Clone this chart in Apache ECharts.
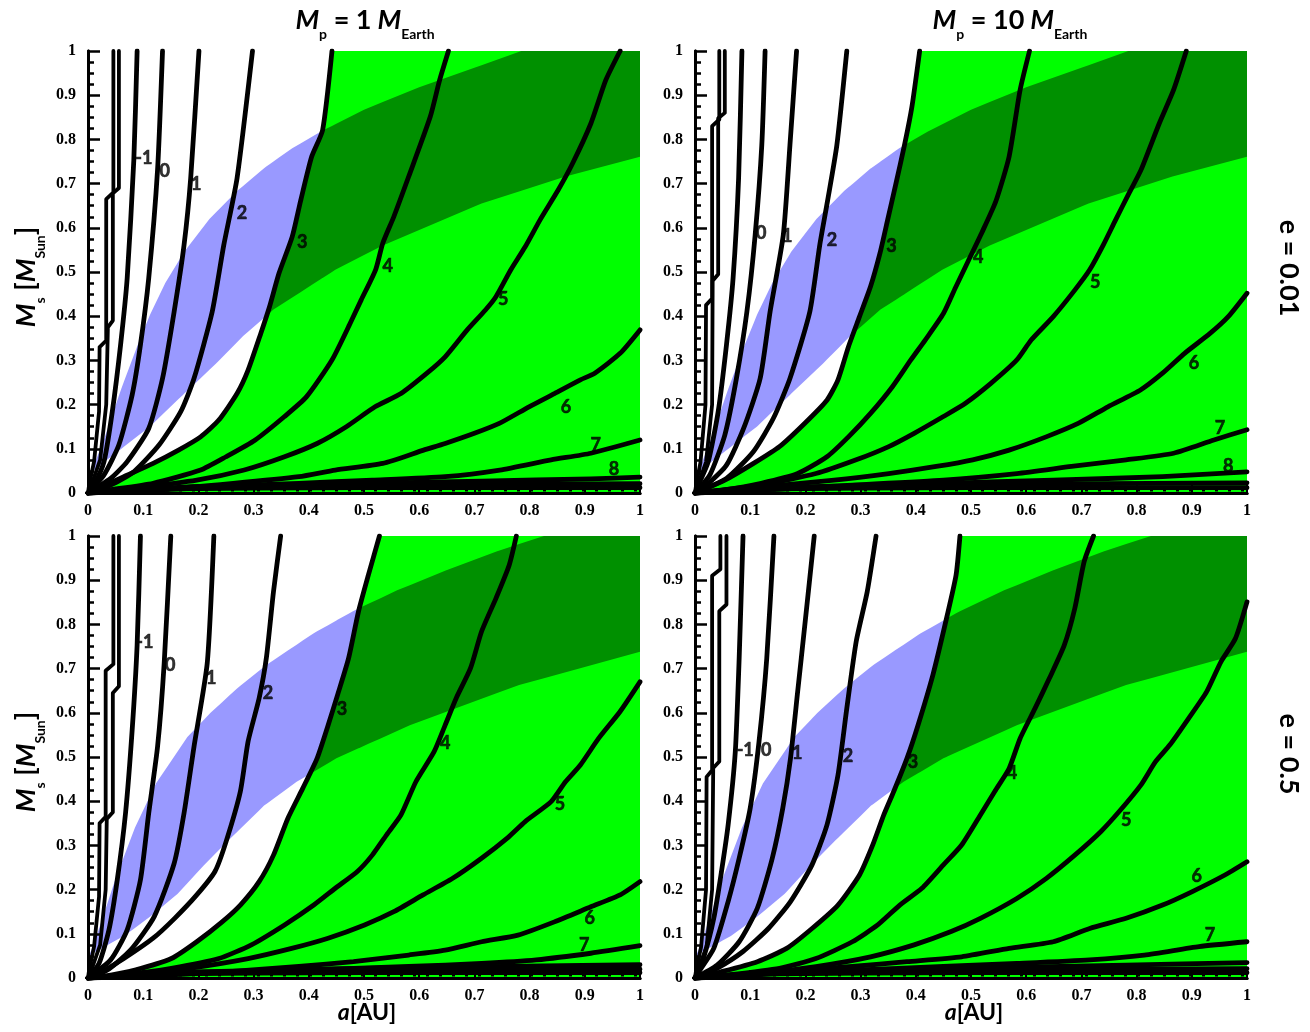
<!DOCTYPE html>
<html>
<head>
<meta charset="utf-8">
<script src="https://cdn.jsdelivr.net/npm/echarts@6/dist/echarts.min.js"></script>
<style>
html,body{margin:0;padding:0;background:#fff}
#chart{width:1310px;height:1032px}
</style>
</head>
<body>
<div id="chart"></div>
<script>
// Contour levels (log10 of the quantity) drawn in every panel
const levels = [-3, -2, -1, 0, 1, 2, 3, 4, 5, 6, 7, 8, 9, 10];

// Habitable-zone band edges, e = 0.01 (a [AU], Ms [Msun])
const hzUpperE001 = [[0,0.035],[0.01,0.06],[0.03,0.125],[0.06,0.235],[0.09,0.335],[0.113,0.405],[0.14,0.475],[0.174,0.545],[0.22,0.62],[0.27,0.683],[0.319,0.735],[0.37,0.78],[0.422,0.818],[0.5,0.867],[0.6,0.918],[0.7,0.962],[0.785,1],[1,1]];
const hzLowerE001 = [[0,0.04],[0.015,0.056],[0.055,0.095],[0.112,0.15],[0.172,0.222],[0.232,0.293],[0.281,0.355],[0.336,0.415],[0.448,0.505],[0.534,0.56],[0.713,0.655],[0.865,0.716],[1,0.761]];
// Habitable-zone band edges, e = 0.5
const hzUpperE05 = [[0,0.045],[0.01,0.075],[0.025,0.13],[0.05,0.225],[0.085,0.34],[0.123,0.44],[0.18,0.545],[0.222,0.6],[0.27,0.655],[0.325,0.71],[0.409,0.78],[0.48,0.83],[0.56,0.877],[0.648,0.922],[0.74,0.965],[0.826,1],[1,1]];
const hzLowerE05 = [[0,0.05],[0.023,0.066],[0.065,0.095],[0.114,0.14],[0.162,0.19],[0.21,0.255],[0.255,0.312],[0.319,0.39],[0.378,0.444],[0.45,0.497],[0.583,0.572],[0.781,0.663],[1,0.738]];

// Mp = 1 Earth, e = 0.01
const contoursTL = [
  [[0.046,1],[0.046,0.68],[0.033,0.665],[0.033,0.345],[0.021,0.33],[0.02,0.184],[0.011,0.071],[0.002,0.018],[0,0]],
  [[0.056,1],[0.056,0.69],[0.045,0.678],[0.045,0.39],[0.036,0.375],[0.033,0.2],[0.022,0.075],[0.006,0.018],[0,0]],
  [[0.089,1],[0.083,0.753],[0.071,0.486],[0.059,0.335],[0.044,0.184],[0.029,0.071],[0.011,0.018],[0,0]],
  [[0.135,1],[0.126,0.731],[0.11,0.486],[0.095,0.335],[0.08,0.222],[0.056,0.109],[0.029,0.041],[0,0]],
  [[0.201,1],[0.186,0.712],[0.174,0.561],[0.156,0.41],[0.135,0.259],[0.11,0.146],[0.071,0.071],[0.041,0.033],[0,0]],
  [[0.298,1],[0.27,0.712],[0.246,0.561],[0.225,0.41],[0.192,0.259],[0.168,0.184],[0.129,0.109],[0.083,0.048],[0.041,0.018],[0,0]],
  [[0.442,1],[0.425,0.821],[0.405,0.76],[0.385,0.66],[0.37,0.58],[0.346,0.497],[0.329,0.422],[0.313,0.361],[0.29,0.278],[0.27,0.225],[0.237,0.165],[0.204,0.127],[0.164,0.097],[0.118,0.067],[0.065,0.037],[0.025,0.014],[0,0]],
  [[0.653,1],[0.637,0.934],[0.62,0.851],[0.581,0.716],[0.554,0.625],[0.534,0.565],[0.521,0.505],[0.495,0.437],[0.475,0.384],[0.442,0.301],[0.396,0.218],[0.356,0.173],[0.303,0.12],[0.25,0.082],[0.204,0.052],[0.118,0.022],[0.038,0.007],[0,0]],
  [[0.964,1],[0.938,0.934],[0.911,0.836],[0.878,0.746],[0.852,0.686],[0.819,0.618],[0.792,0.557],[0.766,0.505],[0.739,0.444],[0.72,0.414],[0.687,0.369],[0.647,0.308],[0.614,0.271],[0.567,0.225],[0.52,0.195],[0.468,0.15],[0.415,0.112],[0.356,0.082],[0.283,0.052],[0.197,0.029],[0.085,0.011],[0,0]],
  [[1,0.369],[0.964,0.316],[0.918,0.271],[0.892,0.256],[0.845,0.225],[0.799,0.195],[0.746,0.158],[0.7,0.135],[0.647,0.112],[0.608,0.097],[0.534,0.067],[0.448,0.052],[0.382,0.037],[0.263,0.022],[0.118,0.007],[0,0]],
  [[1,0.12],[0.911,0.09],[0.839,0.075],[0.746,0.052],[0.647,0.037],[0.515,0.029],[0.382,0.022],[0.217,0.014],[0,0]],
  [[1,0.036],[0.911,0.032],[0.713,0.027],[0.515,0.022],[0.3,0.016],[0,0]],
  [[1,0.021],[0.6,0.019],[0.2,0.015],[0,0]],
  [[1,0.012],[0.5,0.012],[0.1,0.009],[0,0]]
];
const labelsTL = [['-1',0.101,0.758],['0',0.139,0.729],['1',0.196,0.699],['2',0.279,0.633],['3',0.388,0.568],['4',0.543,0.514],['5',0.752,0.439],['6',0.866,0.195],['7',0.92,0.109],['8',0.953,0.054]];

// Mp = 10 Earth, e = 0.01
const contoursTR = [
  [[0.044,1],[0.044,0.845],[0.031,0.83],[0.031,0.44],[0.02,0.425],[0.019,0.2],[0.01,0.07],[0.002,0.018],[0,0]],
  [[0.054,1],[0.054,0.86],[0.042,0.848],[0.042,0.495],[0.032,0.48],[0.031,0.2],[0.02,0.07],[0.005,0.018],[0,0]],
  [[0.085,1],[0.079,0.712],[0.069,0.486],[0.057,0.335],[0.042,0.184],[0.024,0.071],[0.006,0.018],[0,0]],
  [[0.127,1],[0.121,0.787],[0.109,0.584],[0.094,0.41],[0.075,0.259],[0.054,0.131],[0.027,0.041],[0,0]],
  [[0.184,1],[0.172,0.787],[0.16,0.584],[0.136,0.41],[0.118,0.259],[0.088,0.146],[0.057,0.063],[0.021,0.018],[0,0]],
  [[0.275,1],[0.257,0.787],[0.24,0.66],[0.226,0.561],[0.208,0.41],[0.172,0.259],[0.142,0.169],[0.106,0.094],[0.057,0.033],[0,0]],
  [[0.407,1],[0.393,0.874],[0.38,0.79],[0.364,0.7],[0.349,0.618],[0.335,0.542],[0.318,0.467],[0.298,0.399],[0.278,0.331],[0.259,0.256],[0.239,0.21],[0.199,0.158],[0.153,0.105],[0.106,0.067],[0.054,0.029],[0.014,0.007],[0,0]],
  [[0.606,1],[0.589,0.912],[0.569,0.761],[0.545,0.66],[0.52,0.59],[0.495,0.525],[0.472,0.465],[0.45,0.406],[0.417,0.346],[0.391,0.301],[0.358,0.241],[0.318,0.18],[0.278,0.127],[0.239,0.082],[0.186,0.044],[0.12,0.022],[0.054,0.007],[0,0]],
  [[0.89,1],[0.867,0.912],[0.841,0.836],[0.808,0.731],[0.785,0.675],[0.762,0.618],[0.74,0.562],[0.715,0.505],[0.688,0.459],[0.649,0.399],[0.609,0.346],[0.583,0.301],[0.536,0.248],[0.49,0.203],[0.45,0.173],[0.397,0.135],[0.351,0.105],[0.292,0.075],[0.219,0.044],[0.12,0.018],[0,0]],
  [[1,0.452],[0.966,0.399],[0.933,0.361],[0.887,0.316],[0.847,0.271],[0.807,0.233],[0.748,0.195],[0.695,0.158],[0.636,0.127],[0.569,0.097],[0.503,0.075],[0.437,0.06],[0.351,0.044],[0.252,0.029],[0.12,0.014],[0,0]],
  [[1,0.143],[0.94,0.12],[0.867,0.09],[0.781,0.075],[0.682,0.06],[0.583,0.044],[0.45,0.029],[0.285,0.018],[0.12,0.007],[0,0]],
  [[1,0.048],[0.847,0.037],[0.649,0.029],[0.45,0.022],[0.252,0.014],[0,0]],
  [[1,0.023],[0.5,0.019],[0.15,0.013],[0,0]],
  [[1,0.012],[0.5,0.012],[0.1,0.009],[0,0]]
];
const labelsTR = [['0',0.12,0.588],['1',0.167,0.581],['2',0.248,0.572],['3',0.356,0.559],['4',0.513,0.534],['5',0.725,0.477],['6',0.904,0.294],['7',0.951,0.147],['8',0.966,0.061]];

// Mp = 1 Earth, e = 0.5
const contoursBL = [
  [[0.046,1],[0.046,0.71],[0.032,0.695],[0.032,0.365],[0.021,0.35],[0.02,0.184],[0.011,0.071],[0.002,0.018],[0,0]],
  [[0.056,1],[0.056,0.66],[0.045,0.645],[0.045,0.375],[0.034,0.36],[0.032,0.2],[0.022,0.075],[0.006,0.018],[0,0]],
  [[0.095,1],[0.089,0.753],[0.08,0.561],[0.068,0.373],[0.053,0.222],[0.038,0.109],[0.02,0.033],[0,0]],
  [[0.15,1],[0.138,0.712],[0.126,0.523],[0.11,0.373],[0.095,0.222],[0.071,0.109],[0.041,0.041],[0,0]],
  [[0.228,1],[0.216,0.712],[0.192,0.523],[0.174,0.373],[0.156,0.259],[0.12,0.139],[0.077,0.063],[0.035,0.018],[0,0]],
  [[0.349,1],[0.336,0.874],[0.323,0.723],[0.31,0.633],[0.29,0.535],[0.276,0.422],[0.25,0.308],[0.23,0.241],[0.197,0.188],[0.157,0.135],[0.118,0.09],[0.065,0.044],[0.025,0.014],[0,0]],
  [[0.528,1],[0.508,0.912],[0.49,0.829],[0.472,0.723],[0.452,0.64],[0.435,0.572],[0.415,0.497],[0.389,0.429],[0.362,0.361],[0.336,0.278],[0.31,0.218],[0.276,0.165],[0.243,0.127],[0.197,0.082],[0.151,0.044],[0.085,0.018],[0.025,0.003],[0,0]],
  [[0.776,1],[0.763,0.934],[0.739,0.859],[0.713,0.784],[0.693,0.701],[0.667,0.633],[0.647,0.572],[0.627,0.512],[0.594,0.444],[0.567,0.369],[0.541,0.324],[0.515,0.278],[0.488,0.241],[0.448,0.203],[0.409,0.165],[0.356,0.12],[0.296,0.075],[0.237,0.044],[0.151,0.022],[0.065,0.007],[0,0]],
  [[1,0.67],[0.964,0.603],[0.925,0.542],[0.892,0.482],[0.865,0.444],[0.839,0.399],[0.792,0.354],[0.759,0.316],[0.713,0.271],[0.66,0.225],[0.607,0.188],[0.554,0.15],[0.501,0.12],[0.435,0.09],[0.369,0.067],[0.29,0.044],[0.184,0.022],[0.085,0.007],[0,0]],
  [[1,0.218],[0.964,0.188],[0.911,0.161],[0.845,0.127],[0.779,0.097],[0.713,0.082],[0.647,0.063],[0.581,0.052],[0.481,0.037],[0.382,0.026],[0.25,0.014],[0.118,0.005],[0,0]],
  [[1,0.073],[0.911,0.056],[0.812,0.041],[0.713,0.033],[0.581,0.026],[0.382,0.018],[0.184,0.011],[0,0]],
  [[1,0.03],[0.6,0.024],[0.2,0.014],[0,0]],
  [[1,0.02],[0.5,0.018],[0.15,0.012],[0,0]],
  [[1,0.012],[0.5,0.012],[0.1,0.009],[0,0]]
];
const labelsBL = [['-1',0.103,0.76],['0',0.149,0.708],['1',0.223,0.679],['2',0.326,0.645],['3',0.46,0.609],['4',0.647,0.532],['5',0.855,0.394],['6',0.909,0.136],['7',0.899,0.075]];

// Mp = 10 Earth, e = 0.5
const contoursBR = [
  [[0.046,1],[0.046,0.925],[0.031,0.91],[0.031,0.47],[0.021,0.455],[0.02,0.2],[0.011,0.07],[0.002,0.018],[0,0]],
  [[0.057,1],[0.057,0.845],[0.044,0.83],[0.044,0.49],[0.033,0.475],[0.031,0.2],[0.021,0.07],[0.005,0.018],[0,0]],
  [[0.087,1],[0.08,0.723],[0.073,0.512],[0.06,0.346],[0.047,0.233],[0.034,0.135],[0.017,0.052],[0,0]],
  [[0.143,1],[0.13,0.723],[0.116,0.535],[0.1,0.384],[0.08,0.271],[0.06,0.173],[0.034,0.067],[0.007,0.014],[0,0]],
  [[0.216,1],[0.199,0.799],[0.186,0.648],[0.173,0.497],[0.159,0.384],[0.14,0.271],[0.113,0.158],[0.08,0.082],[0.04,0.029],[0,0]],
  [[0.328,1],[0.312,0.874],[0.292,0.761],[0.275,0.61],[0.259,0.459],[0.239,0.346],[0.212,0.256],[0.173,0.173],[0.133,0.112],[0.087,0.06],[0.04,0.022],[0,0]],
  [[0.48,1],[0.473,0.912],[0.457,0.821],[0.431,0.686],[0.404,0.572],[0.384,0.497],[0.36,0.422],[0.342,0.369],[0.322,0.301],[0.298,0.233],[0.259,0.165],[0.212,0.112],[0.166,0.067],[0.113,0.037],[0.047,0.014],[0,0]],
  [[0.722,1],[0.705,0.942],[0.688,0.836],[0.669,0.753],[0.642,0.678],[0.616,0.61],[0.589,0.542],[0.569,0.474],[0.543,0.422],[0.517,0.369],[0.483,0.301],[0.45,0.256],[0.411,0.203],[0.371,0.165],[0.331,0.12],[0.285,0.082],[0.219,0.044],[0.153,0.022],[0.06,0.007],[0,0]],
  [[1,0.851],[0.979,0.768],[0.953,0.716],[0.927,0.648],[0.894,0.587],[0.86,0.527],[0.834,0.489],[0.808,0.437],[0.768,0.376],[0.735,0.331],[0.688,0.278],[0.636,0.225],[0.583,0.18],[0.517,0.135],[0.464,0.105],[0.397,0.075],[0.318,0.048],[0.219,0.026],[0.12,0.011],[0,0]],
  [[1,0.263],[0.96,0.233],[0.9,0.195],[0.847,0.165],[0.781,0.135],[0.715,0.112],[0.649,0.082],[0.569,0.067],[0.483,0.048],[0.384,0.037],[0.285,0.026],[0.153,0.014],[0,0]],
  [[1,0.082],[0.913,0.071],[0.814,0.052],[0.715,0.041],[0.583,0.033],[0.45,0.026],[0.285,0.018],[0.153,0.011],[0,0]],
  [[1,0.035],[0.78,0.029],[0.5,0.022],[0.2,0.013],[0,0]],
  [[1,0.021],[0.5,0.018],[0.15,0.012],[0,0]],
  [[1,0.012],[0.5,0.012],[0.1,0.009],[0,0]]
];
const labelsBR = [['-1',0.091,0.516],['0',0.129,0.516],['1',0.185,0.509],['2',0.277,0.502],['3',0.395,0.489],['4',0.574,0.464],['5',0.781,0.357],['6',0.909,0.231],['7',0.933,0.097]];

// The thin row along the bottom edge
const baseRow = [[0,0.0052],[1,0.0052]];

const W = 552, H = 442;
const panels = [
  { left: 88,  top: 51,  lines: contoursTL, labels: labelsTL, up: hzUpperE001, low: hzLowerE001 },
  { left: 695, top: 51,  lines: contoursTR, labels: labelsTR, up: hzUpperE001, low: hzLowerE001 },
  { left: 88,  top: 536, lines: contoursBL, labels: labelsBL, up: hzUpperE05,  low: hzLowerE05 },
  { left: 695, top: 536, lines: contoursBR, labels: labelsBR, up: hzUpperE05,  low: hzLowerE05 }
];

const GREEN = '#00ff00', DARK = '#009000', BLUE = '#9999ff';
const tickFont = { fontFamily: '"Liberation Serif", "DejaVu Serif", serif', fontWeight: 'bold', fontSize: 16, color: '#000' };
const sans = 'Lato';

// piecewise-linear value of an ascending polyline
function at(pts, x) {
  if (x <= pts[0][0]) return pts[0][1];
  for (let k = 1; k < pts.length; k++) {
    if (x <= pts[k][0]) {
      const a = pts[k - 1], b = pts[k];
      return b[0] === a[0] ? b[1] : a[1] + (b[1] - a[1]) * (x - a[0]) / (b[0] - a[0]);
    }
  }
  return pts[pts.length - 1][1];
}

// Split the band into the part left of the level-3 contour and the part right of it
function splitBand(up, low, edgeTopDown) {
  const edge = edgeTopDown.slice().reverse();
  if (edge[edge.length - 1][0] < 1) edge.push([1, 1]);
  const f = x => [at(up, x), at(low, x), at(edge, x)];
  let xs = Array.from(new Set(up.concat(low, edge).map(p => p[0]))).sort((a, b) => a - b);
  const cross = [];
  for (let k = 1; k < xs.length; k++) {
    const a = xs[k - 1], b = xs[k], fa = f(a), fb = f(b);
    [0, 1].forEach(j => {
      const da = fa[2] - fa[j], db = fb[2] - fb[j];
      if (da * db < 0) cross.push(a + (b - a) * da / (da - db));
    });
  }
  xs = xs.concat(cross).sort((a, b) => a - b);
  const bt = [], bb = [], dt = [], db = [];
  xs.forEach(x => {
    const [u, l, c] = f(x);
    bt.push([x, u]); bb.push([x, Math.min(u, Math.max(l, c))]);
    dt.push([x, Math.max(l, Math.min(u, c))]); db.push([x, l]);
  });
  return { left: bt.concat(bb.reverse()), right: dt.concat(db.reverse()) };
}

const grid = [], xAxis = [], yAxis = [], series = [];

function polygon(i, pts, fill, z) {
  return {
    type: 'custom', xAxisIndex: 2 * i, yAxisIndex: 2 * i, z: z, silent: true,
    data: [[0, 0]],
    renderItem: function (params, api) {
      return { type: 'polygon', shape: { points: pts.map(p => api.coord(p)) }, style: { fill: fill } };
    }
  };
}

panels.forEach((p, i) => {
  grid.push({ left: p.left, top: p.top, width: W, height: H });
  xAxis.push({
    type: 'value', gridIndex: i, min: 0, max: 1, interval: 0.1, z: 10,
    axisLine: { show: true, lineStyle: { color: '#000', width: 3 } },
    axisTick: { show: true, inside: true, length: 8, lineStyle: { color: '#000', width: 2 } },
    axisLabel: Object.assign({ margin: 10 }, tickFont),
    splitLine: { show: false }
  });
  xAxis.push({
    type: 'value', gridIndex: i, min: 0, max: 1, position: 'top', z: 10,
    axisLine: { show: true, lineStyle: { color: '#000', width: 3 } },
    axisTick: { show: false }, axisLabel: { show: false }, splitLine: { show: false }
  });
  yAxis.push({
    type: 'value', gridIndex: i, min: 0, max: 1, interval: 0.1, z: 10,
    axisLine: { show: true, lineStyle: { color: '#000', width: 3 } },
    axisTick: { show: true, inside: true, length: 12, lineStyle: { color: '#000', width: 2.5 } },
    minorTick: { show: true, splitNumber: 4, length: 6, lineStyle: { color: '#000', width: 2.5 } },
    axisLabel: Object.assign({ margin: 12 }, tickFont),
    splitLine: { show: false }
  });
  yAxis.push({
    type: 'value', gridIndex: i, min: 0, max: 1, position: 'right', z: 10,
    axisLine: { show: true, lineStyle: { color: '#000', width: 3 } },
    axisTick: { show: false }, axisLabel: { show: false }, splitLine: { show: false }
  });

  // region right of the level-3 contour, then the band on either side of it
  const edge = p.lines[levels.indexOf(3)];
  const band = splitBand(p.up, p.low, edge);
  series.push(polygon(i, [[1, 0], [1, 1]].concat(edge), GREEN, 1));
  series.push(polygon(i, band.left, BLUE, 2));
  series.push(polygon(i, band.right, DARK, 2));

  p.lines.forEach((pts, k) => {
    const pair = levels[k] < -1;
    series.push({
      type: 'line', xAxisIndex: 2 * i, yAxisIndex: 2 * i, data: pts,
      showSymbol: false, symbol: 'none', silent: true, z: 3,
      smooth: pair ? false : 0.2,
      lineStyle: { color: '#000', width: pair ? 3.8 : 4.8, cap: 'round', join: 'round' }
    });
  });
  series.push({
    type: 'line', xAxisIndex: 2 * i, yAxisIndex: 2 * i, data: baseRow,
    showSymbol: false, symbol: 'none', silent: true, z: 3,
    lineStyle: { color: '#000', width: 1.8, type: [3, 10] }
  });
  series.push({
    type: 'scatter', xAxisIndex: 2 * i, yAxisIndex: 2 * i, z: 4, silent: true,
    symbolSize: 1, itemStyle: { color: 'rgba(0,0,0,0)' },
    data: p.labels.map(l => ({ name: l[0], value: [l[1], l[2]] })),
    label: {
      show: true, position: 'inside', formatter: '{b}', fontFamily: sans, fontWeight: 'bold', fontSize: 18,
      color: '#000', textBorderWidth: 0.6, textBorderColor: '#000'
    }
  });
});

function richSet(big, small, drop) {
  return {
    m: { fontFamily: sans, fontStyle: 'italic', fontWeight: 'bold', fontSize: big, fill: '#000', verticalAlign: 'bottom', padding: [0, 0, drop, 0] },
    t: { fontFamily: sans, fontWeight: 'bold', fontSize: big, fill: '#000', verticalAlign: 'bottom', padding: [0, 0, drop, 0] },
    s: { fontFamily: sans, fontWeight: 'bold', fontSize: small, fill: '#000', verticalAlign: 'bottom' }
  };
}
const richBig = richSet(27, 14, 8), richAxis = richSet(23, 13, 0);
function label(text, x, y, rot, rich) {
  return {
    type: 'text', x: x, y: y, rotation: rot || 0, silent: true, z: 20,
    style: { text: text, rich: rich || richBig, align: 'center', verticalAlign: 'middle', fill: '#000' }
  };
}

const graphic = [
  label('{m|M}{s|p}{t| = 1}{m| M}{s|Earth}', 365, 24),
  label('{m|M}{s|p}{t| = 10}{m| M}{s|Earth}', 1010, 24),
  label('{m|M}{s|s}{t| [}{m|M}{s|Sun}{t|]}', 30, 277, Math.PI / 2),
  label('{m|M}{s|s}{t| [}{m|M}{s|Sun}{t|]}', 30, 762, Math.PI / 2),
  label('{m|a}{t|[AU]}', 367, 1013, 0, richAxis),
  label('{m|a}{t|[AU]}', 974, 1013, 0, richAxis),
  label('{t|e = 0.01}', 1285, 268, -Math.PI / 2),
  label('{t|e = 0.5}', 1285, 754, -Math.PI / 2)
];

const chart = echarts.init(document.getElementById('chart'), null, { renderer: 'canvas' });
chart.setOption({
  backgroundColor: '#fff',
  animation: false,
  grid: grid, xAxis: xAxis, yAxis: yAxis, series: series, graphic: graphic
});
</script>
</body>
</html>
